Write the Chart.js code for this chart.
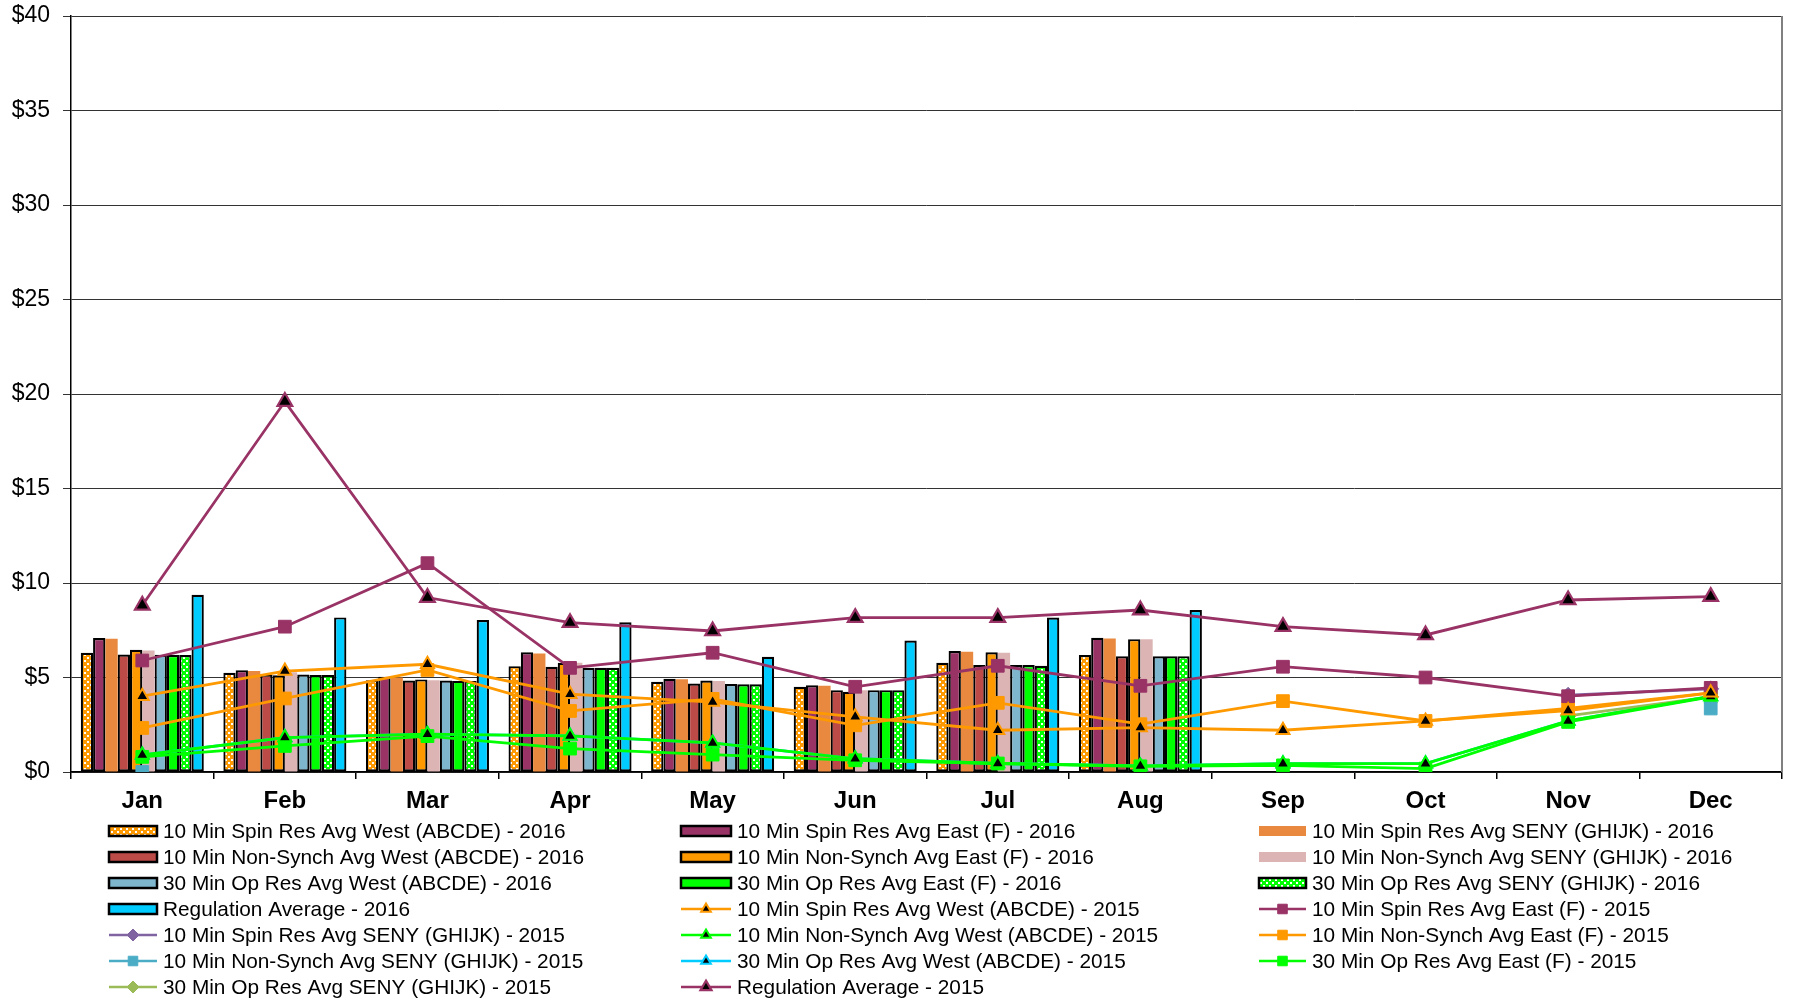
<!DOCTYPE html>
<html><head><meta charset="utf-8">
<script src="https://cdn.jsdelivr.net/npm/chart.js@4.4.1/dist/chart.umd.min.js"></script>
<style>html,body{margin:0;padding:0;background:#fff;}canvas{display:block;}</style>
</head><body>
<canvas id="c" width="1799" height="1000"></canvas>
<script>
const months = ['Jan','Feb','Mar','Apr','May','Jun','Jul','Aug','Sep','Oct','Nov','Dec'];
const yTicks = [0,5,10,15,20,25,30,35,40];

// 2016 bars (Jan-Aug)
const spinWest16 = [6.31, 5.25, 4.86, 5.60, 4.77, 4.51, 5.78, 6.19];
const spinEast16 = [7.09, 5.39, 5.04, 6.33, 4.93, 4.59, 6.40, 7.10];
const spinSeny16 = [7.05, 5.34, 5.00, 6.27, 4.91, 4.56, 6.36, 7.07];
const nsWest16   = [6.22, 5.16, 4.84, 5.57, 4.68, 4.33, 5.66, 6.12];
const nsEast16   = [6.47, 5.12, 4.90, 5.78, 4.84, 4.24, 6.33, 7.03];
const nsSeny16   = [6.43, 5.28, 4.86, 5.78, 4.82, 4.33, 6.31, 7.03];
const opWest16   = [6.20, 5.16, 4.84, 5.51, 4.65, 4.33, 5.66, 6.12];
const opEast16   = [6.19, 5.13, 4.82, 5.51, 4.64, 4.33, 5.66, 6.12];
const opSeny16   = [6.19, 5.13, 4.82, 5.51, 4.64, 4.33, 5.62, 6.12];
const reg16      = [9.38, 8.18, 8.04, 7.92, 6.10, 6.96, 8.17, 8.57];

// 2015 lines
const spinWest15 = [4.01, 5.34, 5.70, 4.12, 3.70, 2.92, 2.21, 2.35, 2.21, 2.70, 3.25, 4.19];
const spinEast15 = [5.90, 7.69, 11.05, 5.51, 6.31, 4.51, 5.62, 4.56, 5.57, 5.00, 4.01, 4.45];
const spinSeny15 = [null, null, null, null, null, null, null, null, null, null, 4.06, 4.40];
const nsWest15   = [0.90, 1.82, 2.00, 1.91, 1.54, 0.70, 0.45, 0.32, 0.44, 0.44, 2.70, 4.00];
const nsEast15   = [2.33, 3.89, 5.40, 3.23, 3.87, 2.47, 3.66, 2.53, 3.75, 2.70, 3.36, 4.19];
const nsSeny15   = [0.00, null, null, null, null, null, null, null, null, null, null, 3.36];
const opWest15   = [0.90, 1.82, 2.00, 1.91, 1.54, 0.70, 0.45, 0.32, 0.44, 0.44, 2.70, 4.00];
const opEast15   = [0.80, 1.38, 1.90, 1.24, 0.92, 0.62, 0.45, 0.30, 0.35, 0.18, 2.65, 3.98];
const opSeny15   = [null, null, null, null, null, null, null, null, null, null, 2.97, 3.98];
const reg15      = [8.82, 19.60, 9.23, 7.90, 7.46, 8.17, 8.17, 8.57, 7.69, 7.25, 9.10, 9.28];

function checker(color) {
  const c = document.createElement('canvas');
  c.width = 6; c.height = 6;
  const x = c.getContext('2d');
  x.fillStyle = color; x.fillRect(0,0,6,6);
  x.fillStyle = '#fff'; x.fillRect(0,0,2,2); x.fillRect(3,3,2,2);
  return x.createPattern(c, 'repeat');
}

function bar(label, data, color, bordered) {
  return { type:'bar', label, data, backgroundColor: color, borderColor:'#000',
    borderWidth: bordered ? 2.2 : 0, borderSkipped:false, order: 5,
    categoryPercentage: 0.863, barPercentage: 1.0 };
}
function line(label, data, color, style, fill, radius, bw) {
  return { type:'line', label, data, borderColor: color, borderWidth: 2.8,
    pointStyle: style, pointBackgroundColor: fill, pointBorderColor: color,
    pointRadius: radius, pointBorderWidth: bw, pointHoverRadius: radius,
    spanGaps:false, fill:false, tension:0, order: 1 };
}

const datasets = [
  bar('10 Min Spin Res Avg West (ABCDE) - 2016', spinWest16, checker('#FF9900'), true),
  bar('10 Min Spin Res Avg East (F) - 2016', spinEast16, '#993366', true),
  bar('10 Min Spin Res Avg SENY (GHIJK) - 2016', spinSeny16, '#E8893F', false),
  bar('10 Min Non-Synch Avg West (ABCDE) - 2016', nsWest16, '#BC4B48', true),
  bar('10 Min Non-Synch Avg East (F) - 2016', nsEast16, '#FF9900', true),
  bar('10 Min Non-Synch Avg SENY (GHIJK) - 2016', nsSeny16, '#DCB4B4', false),
  bar('30 Min Op Res Avg West (ABCDE) - 2016', opWest16, '#7DB6CD', true),
  bar('30 Min Op Res Avg East (F) - 2016', opEast16, '#00FF00', true),
  bar('30 Min Op Res Avg SENY (GHIJK) - 2016', opSeny16, checker('#00FF00'), true),
  bar('Regulation Average - 2016', reg16, '#00CCFF', true),
  line('10 Min Spin Res Avg West (ABCDE) - 2015', spinWest15, '#FF9900', 'triangle', '#000', 7.5, 2),
  line('10 Min Spin Res Avg East (F) - 2015', spinEast15, '#993366', 'rect', '#993366', 9, 1),
  line('10 Min Spin Res Avg SENY (GHIJK) - 2015', spinSeny15, '#8064A2', 'rectRot', '#8064A2', 8, 1),
  line('10 Min Non-Synch Avg West (ABCDE) - 2015', nsWest15, '#00FF00', 'triangle', '#000', 7.5, 2),
  line('10 Min Non-Synch Avg East (F) - 2015', nsEast15, '#FF9900', 'rect', '#FF9900', 9, 1),
  line('10 Min Non-Synch Avg SENY (GHIJK) - 2015', nsSeny15, '#4BACC6', 'rect', '#4BACC6', 9, 1),
  line('30 Min Op Res Avg West (ABCDE) - 2015', opWest15, '#00CCFF', 'triangle', '#000', 7.5, 2),
  line('30 Min Op Res Avg East (F) - 2015', opEast15, '#00FF00', 'rect', '#00FF00', 9, 1),
  line('30 Min Op Res Avg SENY (GHIJK) - 2015', opSeny15, '#9BBB59', 'rectRot', '#9BBB59', 8, 1),
  line('Regulation Average - 2015', reg15, '#993366', 'triangle', '#000', 8.5, 2.2)
];
datasets[16].order = 3;

const FONT = '"Liberation Sans", Arial, sans-serif';

const gridLegend = {
  id: 'gridLegend',
  afterDraw(chart) {
    const ctx = chart.ctx;
    const boxX = [109, 681, 1259];
    const txtX = [163, 737, 1312];
    const y0 = 831, rh = 26;
    chart.data.datasets.forEach((ds, i) => {
      const col = i % 3, row = Math.floor(i / 3);
      const x = boxX[col], y = y0 + row * rh, w = txtX[col] - 6 - x;
      ctx.save();
      if (ds.type === 'bar') {
        const h = 10;
        ctx.fillStyle = ds.backgroundColor;
        ctx.fillRect(x, y - h / 2, w, h);
        if (ds.borderWidth) { ctx.lineWidth = 2.5; ctx.strokeStyle = '#000'; ctx.strokeRect(x, y - h / 2, w, h); }
      } else {
        ctx.strokeStyle = ds.borderColor; ctx.lineWidth = 2.5;
        ctx.beginPath(); ctx.moveTo(x, y); ctx.lineTo(x + w, y); ctx.stroke();
        ctx.fillStyle = ds.pointBackgroundColor; ctx.strokeStyle = ds.pointBorderColor;
        ctx.lineWidth = ds.pointBorderWidth;
        Chart.helpers.drawPoint(ctx, { pointStyle: ds.pointStyle, rotation: 0,
          radius: ds.pointRadius * 0.75, borderWidth: ds.pointBorderWidth }, x + w / 2, y);
      }
      ctx.fillStyle = '#000'; ctx.font = '20.8px ' + FONT; ctx.textBaseline = 'middle';
      ctx.textAlign = 'left';
      ctx.fillText(ds.label, txtX[col], y + 1);
      ctx.restore();
    });
    const a = chart.chartArea;
    ctx.save();
    ctx.strokeStyle = '#808080'; ctx.lineWidth = 2;
    ctx.beginPath(); ctx.moveTo(a.right, a.top); ctx.lineTo(a.right, a.bottom); ctx.stroke();
    ctx.restore();
  }
};

new Chart(document.getElementById('c'), {
  data: { labels: months, datasets },
  options: {
    responsive: false, animation: false,
    layout: { padding: { left: 0, right: 17, top: 16, bottom: 181 } },
    plugins: { legend: { display: false }, tooltip: { enabled: false } },
    scales: {
      x: {
        offset: true,
        grid: { display: true, drawOnChartArea: false, drawTicks: true, tickLength: 7, color: '#000', lineWidth: 1.5, offset: true },
        border: { display: true, color: '#000', width: 1.5 },
        ticks: { color: '#000', font: { family: FONT, size: 24, weight: 'bold' }, padding: 8, maxRotation: 0 },
        afterFit(s) { s.height = 47; s.paddingLeft = 0; s.paddingRight = 0; }
      },
      y: {
        min: 0, max: 40,
        afterBuildTicks(s) { s.ticks = yTicks.map(v => ({ value: v })); },
        grid: { color: '#333', lineWidth: 1, tickLength: 8, drawTicks: true },
        border: { display: true, color: '#000', width: 1.5 },
        ticks: { color: '#000', font: { family: FONT, size: 23 }, padding: 13,
          callback: v => '$' + v },
        afterFit(s) { s.width = 71; s.paddingTop = 0; s.paddingBottom = 0; }
      }
    }
  },
  plugins: [gridLegend]
});
</script>
</body></html>
